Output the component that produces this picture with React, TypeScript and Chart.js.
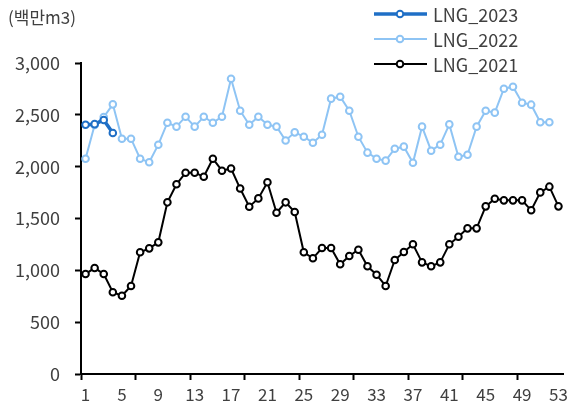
import React, { useEffect, useRef } from "react";
import { Chart, registerables } from "chart.js";

Chart.register(...registerables);

const weeks: string[] = Array.from({ length: 53 }, (_, i) => String(i + 1));

const lng2023: number[] = [2405, 2410, 2450, 2325];

const lng2022: number[] = [
  2077, 2402, 2479, 2601, 2270, 2270, 2077, 2042, 2212, 2424,
  2386, 2482, 2386, 2482, 2424, 2482, 2848, 2540, 2405, 2482,
  2405, 2386, 2253, 2331, 2289, 2231, 2308, 2656, 2675, 2540,
  2289, 2135, 2077, 2058, 2173, 2193, 2038, 2386, 2154, 2212,
  2408, 2096, 2115, 2386, 2540, 2521, 2752, 2771, 2617, 2598,
  2428, 2428,
];

const lng2021: number[] = [
  965, 1022, 965, 788, 755, 849, 1174, 1212, 1270, 1656,
  1830, 1942, 1942, 1903, 2077, 1961, 1982, 1789, 1614, 1694,
  1849, 1556, 1656, 1563, 1174, 1116, 1215, 1215, 1058, 1138,
  1199, 1039, 958, 849, 1100, 1177, 1251, 1077, 1039, 1077,
  1251, 1324, 1405, 1405, 1617, 1691, 1675, 1675, 1675, 1579,
  1752, 1807, 1617,
];

const seriesLabels: string[] = ["LNG_2023", "LNG_2022", "LNG_2021"];
const seriesColors: string[] = ["#1F6FC6", "#8EC4F4", "#000000"];
const seriesWidths: number[] = [3.5, 2, 2];
const yTicks: number[] = [0, 500, 1000, 1500, 2000, 2500, 3000];
const unitLabel = "(백만m3)";

const FONT = "'Noto Sans CJK KR', 'Noto Sans', sans-serif";
const TEXT = "#404040";

const legendPlugin = {
  id: "customLegend",
  afterDraw(chart: any) {
    const ctx = chart.ctx;
    const x0 = 374;
    const x1 = 427;
    const xm = 400;
    const rows = [14, 39, 64];
    ctx.save();
    chart.data.datasets.forEach((ds: any, i: number) => {
      const y = rows[i];
      ctx.strokeStyle = ds.borderColor;
      ctx.lineWidth = ds.borderWidth;
      ctx.beginPath();
      ctx.moveTo(x0, y);
      ctx.lineTo(x1, y);
      ctx.stroke();
      ctx.lineWidth = 2;
      ctx.fillStyle = "#ffffff";
      ctx.beginPath();
      ctx.arc(xm, y, 3.3, 0, Math.PI * 2);
      ctx.fill();
      ctx.stroke();
      ctx.fillStyle = TEXT;
      ctx.font = `18px ${FONT}`;
      ctx.textAlign = "left";
      ctx.textBaseline = "middle";
      ctx.fillText(ds.label, 433, y + 1);
    });
    ctx.restore();
  },
};

export default function App() {
  const ref = useRef<HTMLCanvasElement | null>(null);

  useEffect(() => {
    document.body.style.margin = "0";
    if (!ref.current) return;
    const datasets = [lng2023, lng2022, lng2021].map((d, i) => ({
      label: seriesLabels[i],
      data: d,
      borderColor: seriesColors[i],
      backgroundColor: "#ffffff",
      borderWidth: seriesWidths[i],
      pointRadius: 3.3,
      pointBorderWidth: 2,
      pointBackgroundColor: "#ffffff",
      pointBorderColor: seriesColors[i],
      tension: 0,
      fill: false,
    }));
    const chart = new Chart(ref.current, {
      type: "line",
      data: { labels: weeks, datasets },
      plugins: [legendPlugin],
      options: {
        responsive: false,
        animation: false,
        layout: { padding: { left: 0, top: 63, right: 10, bottom: 0 } },
        plugins: {
          legend: { display: false },
          tooltip: { enabled: false },
        },
        scales: {
          x: {
            type: "category",
            offset: true,
            afterFit: (s: any) => {
              s.height = 33;
            },
            border: { display: true, color: "#000", width: 2 },
            grid: {
              offset: true,
              drawOnChartArea: false,
              drawTicks: true,
              tickLength: 6,
              tickWidth: 2,
              tickColor: (c: any) => (c.index % 6 === 0 ? "#000" : "rgba(0,0,0,0)"),
              color: "rgba(0,0,0,0)",
            },
            ticks: {
              autoSkip: false,
              maxRotation: 0,
              minRotation: 0,
              padding: 4,
              color: TEXT,
              font: { family: FONT, size: 17 },
              callback: (_v: any, i: number) => (i % 4 === 0 ? weeks[i] : ""),
            },
          },
          y: {
            min: 0,
            max: 3000,
            afterFit: (s: any) => {
              s.width = 81;
            },
            afterBuildTicks: (s: any) => {
              s.ticks = yTicks.map((v) => ({ value: v }));
            },
            border: { display: true, color: "#000", width: 2 },
            grid: {
              drawOnChartArea: false,
              drawTicks: true,
              tickLength: 6,
              tickWidth: 2,
              tickColor: "#000",
              color: "rgba(0,0,0,0)",
            },
            ticks: {
              padding: 15,
              color: TEXT,
              font: { family: FONT, size: 18 },
              callback: (v: any) => Number(v).toLocaleString("en-US"),
            },
          },
        },
      },
    });
    return () => chart.destroy();
  }, []);

  return (
    <div style={{ position: "absolute", left: 0, top: 0, width: 573, height: 407, background: "#fff" }}>
      <canvas ref={ref} width={573} height={407} style={{ display: "block" }} />
      <div
        style={{
          position: "absolute",
          left: 8,
          top: 6,
          fontFamily: FONT,
          fontSize: 17,
          color: TEXT,
          lineHeight: "22px",
          whiteSpace: "nowrap",
        }}
      >
        {unitLabel}
      </div>
    </div>
  );
}
